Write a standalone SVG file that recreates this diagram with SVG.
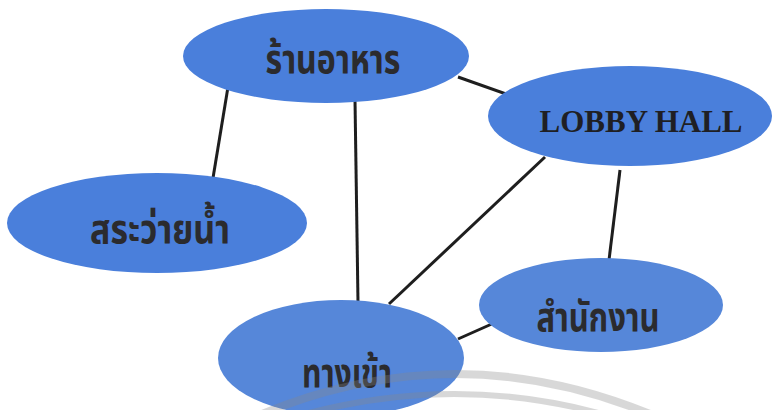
<svg xmlns="http://www.w3.org/2000/svg" width="774" height="410" viewBox="0 0 774 410">
<style>
.node{fill:#4a7fdb}
.node2{fill:#5687d9}
.th{font-family:"Noto Sans Thai","Noto Sans","DejaVu Sans",sans-serif;font-weight:bold;fill:#2b2b2e;font-size:40px}
.en{font-family:"Liberation Serif","Times New Roman",serif;font-weight:bold;fill:#1f1f24;font-size:31px}
.edge{stroke:#1e1e1e;stroke-width:3;fill:none}
.wm{fill:none;stroke:#888;stroke-opacity:0.33}
</style>
<rect width="774" height="410" fill="#ffffff"/>
<g id="connectors">
<line class="edge" x1="228" y1="87" x2="213" y2="178"/>
<line class="edge" x1="355" y1="100" x2="358" y2="302"/>
<line class="edge" x1="458" y1="77" x2="512" y2="96"/>
<line class="edge" x1="545" y1="157" x2="389" y2="304"/>
<line class="edge" x1="620" y1="170" x2="609" y2="260"/>
<line class="edge" x1="458" y1="339" x2="494" y2="323"/>
</g>
<g id="n-restaurant">
<ellipse class="node" cx="326" cy="56" rx="143" ry="47"/>
<text class="th" x="333" y="73" text-anchor="middle" textLength="135" lengthAdjust="spacingAndGlyphs">ร้านอาหาร</text>
</g>
<g id="n-lobby">
<ellipse class="node" cx="630" cy="116" rx="142" ry="50"/>
<text class="en" x="641" y="132" text-anchor="middle" textLength="203" lengthAdjust="spacingAndGlyphs">LOBBY HALL</text>
</g>
<g id="n-pool">
<ellipse class="node" cx="157" cy="223" rx="150" ry="50"/>
<text class="th" x="160" y="243" text-anchor="middle" textLength="140" lengthAdjust="spacingAndGlyphs">สระว่ายน้ำ</text>
</g>
<g id="n-office">
<ellipse class="node2" cx="601" cy="305" rx="122" ry="47"/>
<text class="th" x="598" y="331" text-anchor="middle" textLength="123" lengthAdjust="spacingAndGlyphs">สำนักงาน</text>
</g>
<g id="n-entrance">
<ellipse class="node2" cx="341" cy="358" rx="123" ry="58"/>
<text class="th" x="347" y="387" text-anchor="middle" textLength="90" lengthAdjust="spacingAndGlyphs">ทางเข้า</text>
</g>
<g id="watermark">
<path class="wm" stroke-width="8" d="M262 414 Q455 334 650 414"/>
<path class="wm" stroke-width="6" d="M305 414 Q455 374 602 414"/>
</g>
</svg>
